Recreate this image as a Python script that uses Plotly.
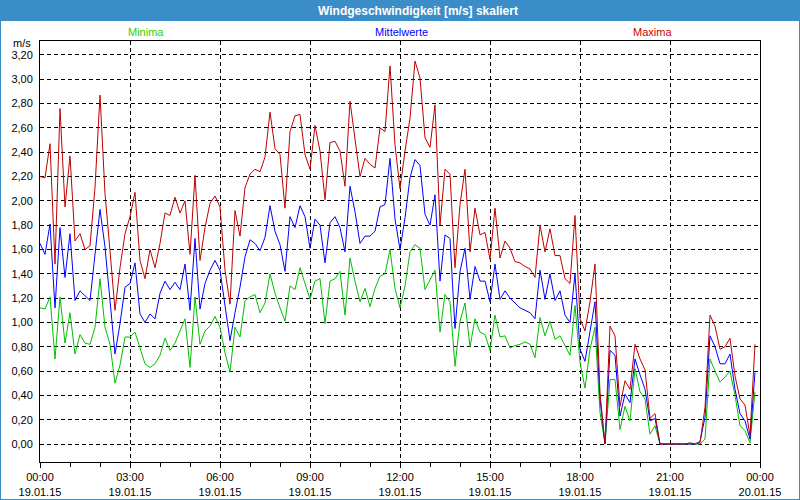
import pandas as pd
import plotly.graph_objects as go

# 10-minute samples, 19.01.15 00:00 .. 23:50
maxima = [2.20, 2.19, 2.47, 1.48, 2.76, 1.95, 2.37, 1.67, 1.73, 1.60, 1.63, 2.11, 2.87, 2.06, 1.59, 1.10,
          1.45, 1.73, 1.87, 2.07, 1.51, 1.36, 1.60, 1.45, 1.65, 1.90, 1.88, 2.03, 1.90, 2.00, 1.56, 2.21,
          1.51, 1.78, 1.98, 2.04, 1.95, 1.43, 1.15, 1.92, 1.71, 2.11, 2.22, 2.26, 2.24, 2.36, 2.73, 2.43,
          2.38, 1.94, 2.57, 2.70, 2.71, 2.38, 2.26, 2.62, 2.41, 2.01, 2.48, 2.49, 2.41, 2.12, 2.82, 2.49,
          2.20, 2.35, 2.30, 2.27, 2.60, 2.57, 3.11, 2.46, 2.10, 2.41, 2.68, 3.15, 3.01, 2.52, 2.44, 2.79,
          1.80, 2.26, 2.22, 1.45, 1.97, 2.26, 1.58, 1.94, 1.72, 1.74, 1.52, 1.94, 1.53, 1.67, 1.61, 1.50,
          1.49, 1.46, 1.44, 1.37, 1.80, 1.58, 1.77, 1.55, 1.55, 1.36, 1.32, 1.88, 1.03, 0.93, 1.17, 1.48,
          0.42, 0.00, 0.97, 0.89, 0.31, 0.52, 0.45, 0.82, 0.70, 0.61, 0.21, 0.25, 0.00, 0.00, 0.00, 0.00,
          0.00, 0.00, 0.01, 0.00, 0.01, 0.30, 1.06, 0.97, 0.78, 0.80, 0.87, 0.56, 0.37, 0.32, 0.07, 0.82]

mittelwerte = [1.65, 1.56, 1.81, 1.12, 1.78, 1.37, 1.73, 1.18, 1.26, 1.22, 1.18, 1.56, 1.93, 1.62, 1.21, 0.74,
               0.99, 1.29, 1.32, 1.49, 1.07, 1.00, 1.07, 1.03, 1.24, 1.34, 1.27, 1.33, 1.27, 1.48, 1.10, 1.69,
               1.11, 1.32, 1.43, 1.51, 1.43, 1.12, 0.85, 1.08, 1.29, 1.54, 1.68, 1.65, 1.59, 1.70, 1.96, 1.75,
               1.64, 1.42, 1.87, 1.78, 1.96, 1.87, 1.61, 1.85, 1.80, 1.49, 1.82, 1.87, 1.78, 1.58, 2.12, 1.91,
               1.65, 1.71, 1.71, 1.75, 1.95, 1.97, 2.35, 1.85, 1.60, 1.86, 2.19, 2.34, 2.29, 1.89, 1.80, 2.05,
               1.34, 1.72, 1.69, 0.95, 1.42, 1.61, 1.19, 1.46, 1.34, 1.34, 1.17, 1.48, 1.19, 1.26, 1.20, 1.16,
               1.12, 1.10, 1.08, 1.03, 1.43, 1.19, 1.40, 1.18, 1.26, 1.06, 1.00, 1.40, 0.78, 0.68, 0.92, 1.17,
               0.37, 0.00, 0.77, 0.73, 0.23, 0.41, 0.34, 0.70, 0.57, 0.45, 0.19, 0.21, 0.00, 0.00, 0.00, 0.00,
               0.00, 0.00, 0.00, 0.00, 0.02, 0.22, 0.89, 0.80, 0.66, 0.66, 0.74, 0.45, 0.25, 0.19, 0.04, 0.59]

minima = [1.12, 1.11, 1.21, 0.70, 1.21, 0.83, 1.08, 0.74, 0.90, 0.83, 0.82, 0.96, 1.36, 0.96, 0.82, 0.50,
          0.65, 0.88, 0.88, 0.92, 0.79, 0.66, 0.63, 0.66, 0.73, 0.87, 0.77, 0.83, 0.93, 1.03, 0.63, 1.21,
          0.82, 0.93, 0.97, 1.05, 0.96, 0.75, 0.59, 0.96, 0.88, 1.18, 1.21, 1.23, 1.08, 1.16, 1.40, 1.24,
          1.12, 1.01, 1.30, 1.27, 1.45, 1.31, 1.19, 1.34, 1.36, 0.99, 1.34, 1.36, 1.42, 1.06, 1.53, 1.34,
          1.17, 1.28, 1.13, 1.28, 1.38, 1.40, 1.60, 1.28, 1.12, 1.30, 1.58, 1.64, 1.61, 1.27, 1.35, 1.43,
          0.92, 1.23, 1.17, 0.64, 1.01, 1.16, 0.80, 1.03, 0.92, 0.90, 0.77, 1.06, 0.88, 0.89, 0.79, 0.81,
          0.82, 0.84, 0.82, 0.71, 1.04, 0.89, 1.01, 0.86, 0.89, 0.81, 0.73, 1.14, 0.67, 0.46, 0.78, 0.96,
          0.26, 0.00, 0.53, 0.53, 0.12, 0.31, 0.19, 0.62, 0.43, 0.37, 0.08, 0.15, 0.00, 0.00, 0.00, 0.00,
          0.00, 0.00, 0.00, 0.00, 0.00, 0.04, 0.70, 0.60, 0.51, 0.55, 0.60, 0.40, 0.15, 0.11, 0.01, 0.43]

times = pd.date_range("2015-01-19 00:00", periods=len(maxima), freq="10min")

x_tickvals = pd.date_range("2015-01-19 00:00", "2015-01-20 00:00", freq="3h")
x_ticktext = [f"{t:%H:%M}<br>{t:%d.%m.%y}" for t in x_tickvals]
y_tickvals = [round(0.2 * i, 2) for i in range(17)]
y_ticktext = [f"{v:.2f}".replace(".", ",") for v in y_tickvals]

title_text = "Windgeschwindigkeit [m/s] skaliert"
series_names = ["Minima", "Mittelwerte", "Maxima"]
line_colors = ["#00c000", "#0000ff", "#c00000"]
label_colors = ["#33cc00", "#0000ff", "#cc0000"]

FONT = "Liberation Sans"
W, H = 800, 500
L, R, T, B = 40, 40, 41, 38
pw, ph = W - L - R, H - T - B


def px(xp):
    return (xp - L) / pw


def py(yp):
    return (H - B - yp) / ph


fig = go.Figure()
for name, vals, col in zip(series_names, [minima, mittelwerte, maxima], line_colors):
    fig.add_trace(go.Scatter(x=times, y=vals, mode="lines", name=name,
                             line=dict(color=col, width=1), showlegend=False))

frame = "#3b8dc8"
fig.update_layout(
    width=W, height=H,
    margin=dict(l=L, r=R, t=T, b=B, pad=0, autoexpand=False),
    paper_bgcolor="white", plot_bgcolor="white",
    font=dict(family=FONT, size=11, color="black"),
    showlegend=False,
    xaxis=dict(
        type="date", automargin=False,
        range=[x_tickvals[0], x_tickvals[-1]],
        tickmode="array", tickvals=x_tickvals, ticktext=x_ticktext,
        ticks="outside", ticklen=5, tickcolor="black",
        minor=dict(dtick=3600000, ticks="outside", ticklen=4, tickcolor="black", showgrid=False),
        showgrid=True, gridcolor="black", griddash="4px,3px", gridwidth=1,
        showline=True, linecolor="black", linewidth=1, mirror=True,
        zeroline=False, tickfont=dict(size=11, family=FONT),
    ),
    yaxis=dict(
        automargin=False,
        range=[-0.148, 3.315],
        tickmode="array", tickvals=y_tickvals, ticktext=y_ticktext,
        ticks="", ticklabelstandoff=4,
        showgrid=True, gridcolor="black", griddash="4px,3px", gridwidth=1,
        showline=True, linecolor="black", linewidth=1, mirror=True,
        zeroline=False, tickfont=dict(size=11, family=FONT),
    ),
    shapes=[
        dict(type="rect", xref="paper", yref="paper", x0=px(0), x1=px(800), y0=py(0), y1=py(21),
             fillcolor=frame, line=dict(width=0), layer="above"),
        dict(type="rect", xref="paper", yref="paper", x0=px(0), x1=px(1), y0=py(0), y1=py(500),
             fillcolor=frame, line=dict(width=0), layer="above"),
        dict(type="rect", xref="paper", yref="paper", x0=px(799), x1=px(800), y0=py(0), y1=py(500),
             fillcolor=frame, line=dict(width=0), layer="above"),
        dict(type="rect", xref="paper", yref="paper", x0=px(0), x1=px(800), y0=py(499), y1=py(500),
             fillcolor=frame, line=dict(width=0), layer="above"),
    ],
    annotations=[
        dict(text=f"<b>{title_text}</b>", xref="paper", yref="paper", x=px(418), y=py(11),
             xanchor="center", yanchor="middle", showarrow=False,
             font=dict(color="white", size=12, family=FONT)),
        dict(text="m/s", xref="paper", yref="paper", x=px(22), y=py(43),
             xanchor="center", yanchor="middle", showarrow=False, font=dict(size=11, family=FONT)),
    ] + [
        dict(text=n, xref="paper", yref="paper", x=px(cx), y=py(32), xanchor="center", yanchor="middle",
             showarrow=False, font=dict(color=c, size=11, family=FONT))
        for n, c, cx in zip(series_names, label_colors, [146, 401, 652])
    ],
)

fig.write_html("out.html", config={"displayModeBar": False},
               post_script="document.body.style.margin='0px';")
